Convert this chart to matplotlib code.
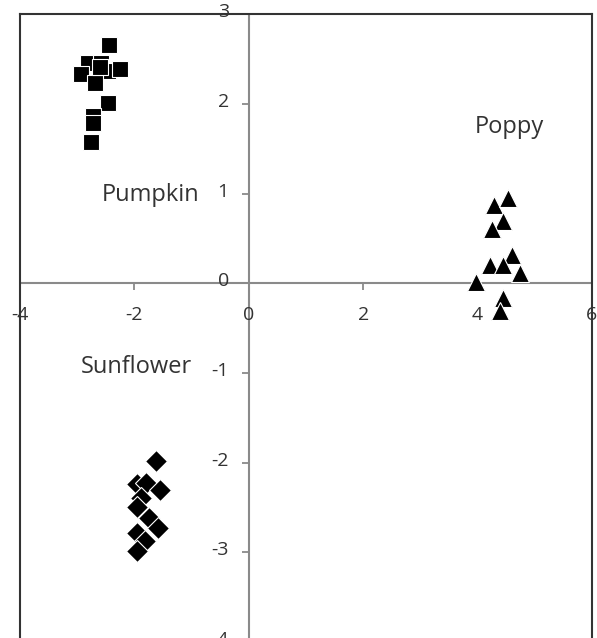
import matplotlib.pyplot as plt
import numpy as np

# Pumpkin (squares)
pumpkin_x = [-2.44, -2.81, -2.58, -2.93, -2.47, -2.25, -2.68, -2.60, -2.47, -2.72, -2.72, -2.75]
pumpkin_y = [2.66, 2.46, 2.46, 2.33, 2.37, 2.39, 2.23, 2.41, 2.01, 1.87, 1.79, 1.57]

# Poppy (triangles)
poppy_x = [4.28, 4.53, 4.44, 4.25, 4.61, 4.21, 4.44, 4.74, 3.98, 4.44, 4.39]
poppy_y = [0.87, 0.95, 0.70, 0.61, 0.31, 0.20, 0.20, 0.12, 0.01, -0.16, -0.31]

# Sunflower (diamonds)
sun_x = [-1.63, -1.96, -1.79, -1.56, -1.89, -1.95, -1.75, -1.58, -1.96, -1.81, -1.96]
sun_y = [-1.98, -2.24, -2.23, -2.31, -2.39, -2.50, -2.62, -2.73, -2.78, -2.87, -2.98]

xticks = [-4, -2, 0, 2, 4, 6]
yticks = [-4, -3, -2, -1, 0, 1, 2, 3]

labels = ['Poppy', 'Pumpkin', 'Sunflower']
label_pos = [(4.56, 1.74), (-1.72, 0.98), (-1.96, -0.93)]

plt.rcParams['font.family'] = ['Open Sans', 'DejaVu Sans']

fig = plt.figure(figsize=(5.97, 6.38), dpi=100)
ax = fig.add_axes([0.0335, -0.0063, 0.958, 0.984])
ax.set_xlim(-4, 6)
ax.set_ylim(-4, 3)

# box border
for s in ax.spines.values():
    s.set_color('#333333')
    s.set_linewidth(1.5)
ax.set_xticks([])
ax.set_yticks([])

# axis lines through zero
gray = '#8a8a8a'
ax.axhline(0, color=gray, lw=1.5, zorder=1)
ax.axvline(0, color=gray, lw=1.5, zorder=1)

# tick marks and labels (Excel-like, axes crossing at 0)
ax.plot(xticks, [0] * len(xticks), ls='none', marker=3, ms=5, color=gray,
        mew=1.3, zorder=1, clip_on=False)
ax.plot([0] * len(yticks), yticks, ls='none', marker=0, ms=5, color=gray,
        mew=1.3, zorder=1, clip_on=False)
for t in xticks:
    ax.annotate(str(t), (t, 0), xytext=(0, -32), textcoords='offset pixels',
                ha='center', va='center', fontsize=14, color='#333333')
for t in yticks:
    ax.annotate(str(t), (0, t), xytext=(-20, 2), textcoords='offset pixels',
                ha='right', va='center', fontsize=14, color='#333333',
                annotation_clip=False)

ax.plot(pumpkin_x, pumpkin_y, ls='none', marker='s', ms=11.5, color='black',
        mec='white', mew=0.8, zorder=3)
ax.plot(poppy_x, poppy_y, ls='none', marker='^', ms=13, color='black',
        mec='white', mew=0.8, zorder=3)
ax.plot(sun_x, sun_y, ls='none', marker='D', ms=11, color='black',
        mec='white', mew=0.8, zorder=3)

for lab, (x, y) in zip(labels, label_pos):
    ax.text(x, y, lab, ha='center', va='center', fontsize=17, color='#333333')

fig.savefig('out.png', dpi=100)
